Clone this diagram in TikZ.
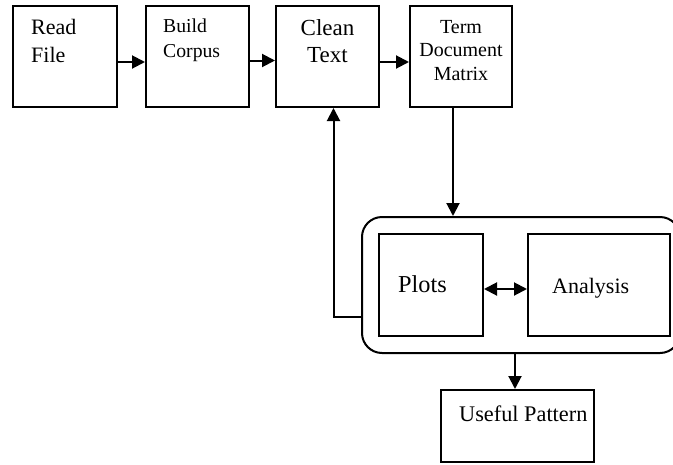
\documentclass[tikz,border=0pt]{standalone}
\usepackage{fontspec}
\setmainfont{Liberation Serif}
\usetikzlibrary{arrows.meta}

\tikzset{
  box/.style={draw, line width=2pt, inner sep=0pt},
  lbl/.style={inner sep=0pt},
  arr/.style={line width=2pt, -{Triangle[length=13pt,width=13pt]}},
}

\begin{document}
\begin{tikzpicture}[x=1pt,y=-1pt]
\useasboundingbox (0,0) rectangle (673,464);
% top row
\node[box, minimum width=104pt, minimum height=101pt] (read) at (65,56.5) {};
\node[box, minimum width=103pt, minimum height=101pt] (build) at (197.5,56.5) {};
\node[box, minimum width=103pt, minimum height=101pt] (clean) at (327.5,56.5) {};
\node[box, minimum width=102pt, minimum height=101pt] (term) at (461,56.5) {};
\node[lbl, anchor=base west, align=left, font=\fontsize{22}{28}\selectfont] (readlbl) at ([xshift=19pt,yshift=-57pt]read.north west) {Read\\File};
\node[lbl, anchor=base west, align=left, font=\fontsize{19.7}{25}\selectfont] (buildlbl) at ([xshift=18pt,yshift=-52pt]build.north west) {Build\\Corpus};
\node[lbl, anchor=base, align=center, font=\fontsize{23}{27}\selectfont] (cleanlbl) at ([yshift=-57pt]clean.north) {Clean\\Text};
\node[lbl, anchor=base, align=center, font=\fontsize{20}{23.5}\selectfont] (termlbl) at ([yshift=-75pt]term.north) {Term\\Document\\Matrix};

% group with plots and analysis
\node[box, rounded corners=20pt, minimum width=318pt, minimum height=136pt] (group) at (521,285) {};
\node[box, minimum width=104pt, minimum height=102pt] (plots) at (431,285) {};
\node[box, minimum width=142pt, minimum height=102pt] (analysis) at (599,285) {};
\node[lbl, anchor=base west, font=\fontsize{24.3}{28}\selectfont] (plotslbl) at ([xshift=20pt,yshift=-59pt]plots.north west) {Plots};
\node[lbl, anchor=base west, font=\fontsize{22}{26}\selectfont] (anlbl) at ([xshift=25pt,yshift=-60pt]analysis.north west) {Analysis};

% result
\node[box, minimum width=153pt, minimum height=72pt] (useful) at (517.5,426) {};
\node[lbl, anchor=base west, font=\fontsize{22.3}{26}\selectfont] (usefullbl) at ([xshift=19pt,yshift=-32pt]useful.north west) {Useful Pattern};

% connectors
\draw[arr] ([yshift=-5.5pt]read.east) -- ([yshift=-5.5pt]build.west);
\draw[arr] ([yshift=-4pt]build.east) -- ([yshift=-4pt]clean.west);
\draw[arr] ([yshift=-5.5pt]clean.east) -- ([yshift=-5.5pt]term.west);
\draw[arr] ([xshift=-8pt]term.south) -- ([xshift=-8pt]term.south |- group.north);
\draw[arr] ([yshift=-32pt]group.west) -| ([xshift=6pt]clean.south);
\draw[line width=2pt, {Triangle[length=13pt,width=13pt]}-{Triangle[length=13pt,width=13pt]}] ([yshift=-4pt]plots.east) -- ([yshift=-4pt]analysis.west);
\draw[arr] ([xshift=-2.5pt]useful.north |- group.south) -- ([xshift=-2.5pt]useful.north);
\end{tikzpicture}
\end{document}
